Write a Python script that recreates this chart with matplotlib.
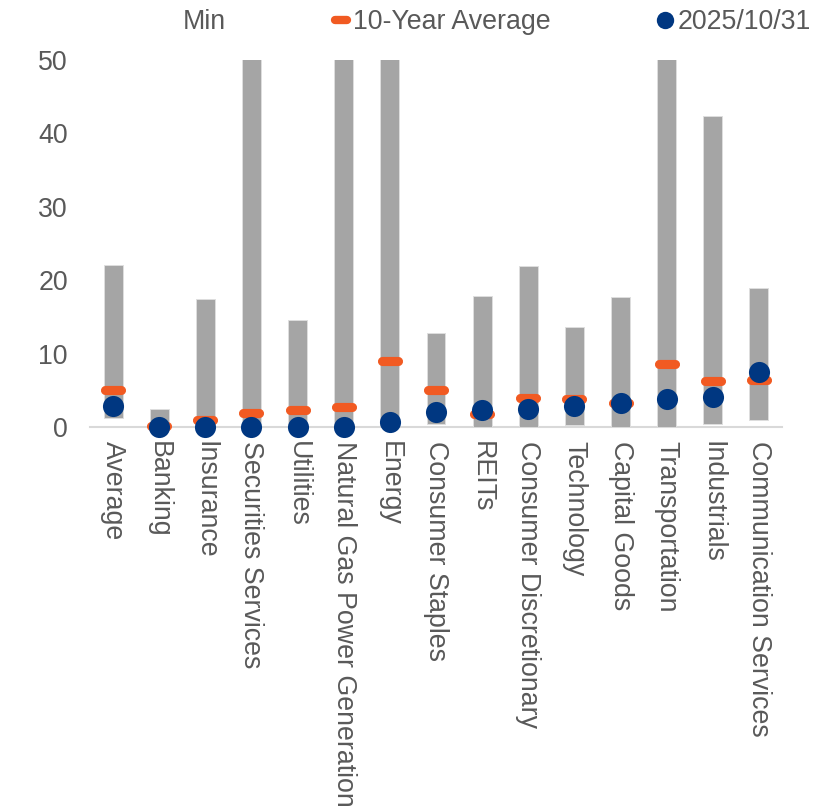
import matplotlib
matplotlib.use("Agg")
import matplotlib.pyplot as plt
from matplotlib.lines import Line2D
from matplotlib.patches import Patch
from matplotlib.markers import MarkerStyle
import numpy as np

plt.rcParams['font.family'] = ['Liberation Sans', 'DejaVu Sans']

categories = ["Average", "Banking", "Insurance", "Securities Services", "Utilities",
              "Natural Gas Power Generation", "Energy", "Consumer Staples", "REITs",
              "Consumer Discretionary", "Technology", "Capital Goods", "Transportation",
              "Industrials", "Communication Services"]
range_min = [1.2, 0.0, 0.0, 0.0, 0.0, 0.0, 0.3, 0.4, 0.0, 0.0, 0.3, 0.0, 0.0, 0.4, 0.95]
range_max = [22.1, 2.45, 17.5, 95.0, 14.6, 80.0, 60.0, 12.85, 17.9, 22.0, 13.6, 17.75, 75.0, 42.4, 18.9]
ten_year_avg = [5.1, 0.1, 0.95, 1.95, 2.3, 2.75, 9.0, 5.1, 1.8, 3.9, 3.8, 3.3, 8.6, 6.2, 6.4]
latest = [2.85, 0.0, 0.0, 0.0, 0.0, 0.0, 0.65, 2.1, 2.3, 2.4, 2.9, 3.3, 3.8, 4.1, 7.5]
yticks = [0, 10, 20, 30, 40, 50]

GRAY = "#a5a5a5"
ORANGE = "#f15a22"
NAVY = "#003781"
TEXT = "#595959"
FS = 19.3

fig = plt.figure(figsize=(8.31, 8.06), dpi=100)
ax = fig.add_axes([90 / 831, 1 - 427 / 806, (782 - 90) / 831, (427 - 60) / 806])

x = np.arange(len(categories))
heights = np.array(range_max) - np.array(range_min)
ax.bar(x, heights, bottom=range_min, width=0.41, color=GRAY,
       edgecolor="#dedede", linewidth=0.7, zorder=2)

dash = MarkerStyle("_", capstyle="round")
ax.plot(x, ten_year_avg, linestyle="none", marker=dash, markersize=11.0,
        markeredgewidth=6.6, color=ORANGE, zorder=3, clip_on=False)
ax.plot(x, latest, linestyle="none", marker="o", markersize=15.2,
        color=NAVY, markeredgewidth=0, zorder=4, clip_on=False)

ax.set_xlim(-0.5, len(categories) - 0.5)
ax.set_ylim(0, 50)
ax.set_yticks(yticks)
ax.set_xticks(x)
ax.set_xticklabels(categories, rotation=-90)
ax.tick_params(axis="both", length=0, labelsize=FS, labelcolor=TEXT)
ax.tick_params(axis="y", pad=16)
ax.tick_params(axis="x", pad=9.8)

for side in ["top", "right", "left"]:
    ax.spines[side].set_visible(False)
ax.spines["bottom"].set_color("#d9d9d9")
ax.spines["bottom"].set_linewidth(1.5)
ax.spines["bottom"].set_zorder(1)

handles = [
    Patch(facecolor="none", edgecolor="none"),
    Line2D([], [], linestyle="none", marker=dash, markersize=8, markeredgewidth=6.0, color=ORANGE),
    Line2D([], [], linestyle="none", marker="o", markersize=12.5, markeredgewidth=0, color=NAVY),
]
labels = ["Min", "10-Year Average", "2025/10/31"]
fig.legend(handles, labels, loc="center", bbox_to_anchor=(486 / 831, 1 - 22 / 806),
           ncol=3, frameon=False, fontsize=FS, labelcolor=TEXT,
           handlelength=0.67, handletextpad=0.12, columnspacing=3.95, borderpad=0)

fig.savefig("out.png", dpi=100)
